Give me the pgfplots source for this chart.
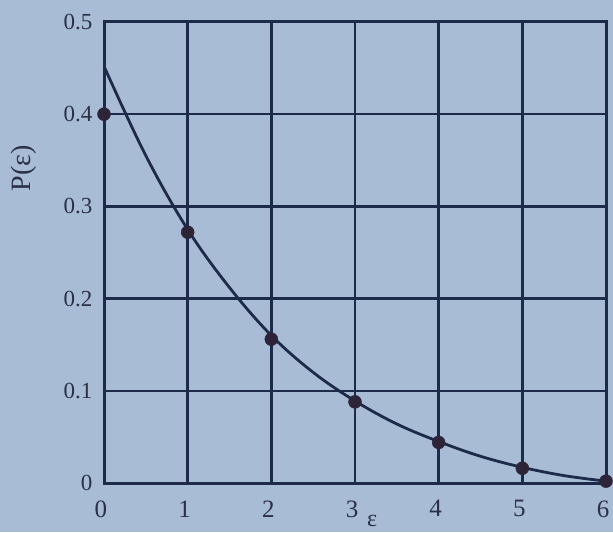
\documentclass[border=0pt]{standalone}
\usepackage{pgfplots}
\pgfplotsset{compat=1.18}
\usepackage{fontspec}
\setmainfont{Liberation Serif}
\usetikzlibrary{calc,backgrounds}
\definecolor{bgcol}{HTML}{A9BCD6}
\definecolor{linecol}{HTML}{1E2A4A}
\definecolor{txtcol}{HTML}{2A3045}
\definecolor{dotcol}{HTML}{2E2438}
\begin{document}
\begin{tikzpicture}
\begin{axis}[
  scale only axis,
  width=502pt, height=461pt,
  xmin=0, xmax=6, ymin=0, ymax=0.5,
  xtick={0,1,2,3,4,5,6},
  ytick={0,0.1,0.2,0.3,0.4,0.5},
  yticklabels={0,0.1,0.2,0.3,0.4,0.5},
  xticklabels={0,1,2,3,4,5,6},
  grid=major,
  major grid style={linecol, line width=2.6pt},
  axis line style={linecol, line width=3pt},
  major tick length=0pt,
  tick label style={text=txtcol},
  yticklabel style={xshift=-8pt, font=\fontsize{23}{27}\selectfont},
  /pgf/number format/assume math mode=true,
  xticklabel style={yshift=-14pt, xshift=-3pt, font=\fontsize{25}{29}\selectfont},
  xlabel={ε},
  xlabel style={at={(axis description cs:0.534,0)}, anchor=base, yshift=-43pt, font=\fontsize{24}{28}\selectfont, text=txtcol},
  ylabel={P(ε)},
  ylabel style={at={(axis description cs:-0.160,0.683)}, anchor=center, font=\fontsize{28}{32}\selectfont, text=txtcol},
  clip=false,
]
\addplot[linecol, line width=2.8pt, smooth, tension=0.6] coordinates {
  (0,0.452) (0.5,0.355) (1,0.275) (1.5,0.212) (2,0.160) (2.5,0.120)
  (3,0.089) (3.5,0.064) (4,0.045) (4.5,0.029) (5,0.017) (5.5,0.008) (6,0.002)
};
\addplot[only marks, mark=*, mark size=6.5pt, dotcol, mark options={fill=dotcol, draw=dotcol}] coordinates {
  (0,0.400) (1,0.272) (2,0.156) (3,0.088) (4,0.044) (5,0.016) (6,0.002)
};
\end{axis}
\pgfresetboundingbox
\path[use as bounding box] ($(current axis.south west)+(-104pt,-49pt)$) rectangle ($(current axis.north east)+(7pt,22pt)$);
\begin{pgfonlayer}{background}
\fill[bgcol] ($(current axis.south west)+(-104pt,-49pt)$) rectangle ($(current axis.north east)+(7pt,22pt)$);
\end{pgfonlayer}
\end{tikzpicture}
\end{document}
